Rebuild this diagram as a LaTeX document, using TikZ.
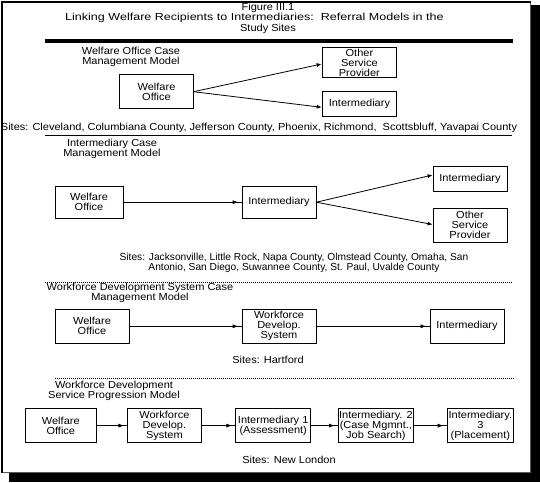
\documentclass[tikz,border=0pt]{standalone}
\usepackage{fontspec}
\setmainfont{Liberation Sans}[FakeStretch=1.08]
\newfontfamily\titlefont{Liberation Sans}[FakeStretch=1.23]
\newfontfamily\narrowfont{Liberation Sans}[FakeStretch=1.0]
\usetikzlibrary{arrows.meta,decorations.markings}
\begin{document}
\begin{tikzpicture}[x=1pt,y=-1pt,
  txt/.style={font=\fontsize{10.2}{10}\selectfont, align=center, inner sep=0pt},
  box/.style={draw, line width=0.8pt, fill=white, txt},
  conn/.style={line width=0.8pt, -{Latex[length=5pt,width=4pt]}},
  connmid/.style={line width=0.8pt, postaction={decorate},
    decoration={markings, mark=at position -3pt with {\arrow{Latex[length=6pt,width=4pt]}}}},
  sep/.style={line width=0.8pt},
  dotsep/.style={line width=0.8pt, dash pattern=on 1pt off 1pt}
]
\useasboundingbox (0,0) rectangle (540,482);
% frame with shadow
\fill[black] (9,5) rectangle (540,482);
\fill[white] (2,2) rectangle (530,472.5);
\draw[gray!70!black, line width=1pt] (530,1) -- (530,472.5) -- (1,472.5);
\draw[black, line width=2pt] (2,473) -- (2,2) -- (531,2);

% title
\node[txt] (t1) at (268,8.3) {Figure III.1};
\node[txt, font=\titlefont\fontsize{10.2}{10}\selectfont, anchor=west] (t2) at (65,18.3) {Linking Welfare Recipients to Intermediaries:\ \ Referral Models in the};
\node[txt] (t3) at (268,29) {Study Sites};
\draw[line width=4pt] (45,41) -- (512.7,41);

% section 1
\node[txt] (l1) at (131,56.4) {Welfare Office Case\\Management Model};
\node[box, minimum width=74pt, minimum height=33.8pt] (wo1) at (156.5,91.4) {Welfare\\Office};
\node[box, minimum width=74.7pt, minimum height=29.6pt] (osp1) at (359.4,62.5) {Other\\Service\\Provider};
\node[box, minimum width=74.7pt, minimum height=25.7pt] (int1) at (359.4,103.9) {Intermediary};
\coordinate (wo1o) at (193.5,91.7);
\coordinate (y1a) at (0,64);
\coordinate (y1b) at (0,107.3);
\draw[conn] (wo1o) -- (osp1.west |- y1a);
\draw[conn] (wo1o) -- (int1.west |- y1b);
\node[txt] (s1) at (259,128.3) {Sites: Cleveland, Columbiana County, Jefferson County, Phoenix, Richmond,\ \ Scottsbluff, Yavapai County};
\draw[sep] (45,135.7) -- (512,135.7);

% section 2
\node[txt] (l2) at (112,149) {Intermediary Case\\Management Model};
\node[box, minimum width=68pt, minimum height=32.3pt] (wo2) at (89,202.2) {Welfare\\Office};
\node[box, minimum width=74pt, minimum height=32.3pt] (int2m) at (279,202.2) {Intermediary};
\node[box, minimum width=74pt, minimum height=24.3pt] (int2r) at (470,178.8) {Intermediary};
\node[box, minimum width=74pt, minimum height=34pt] (osp2) at (470,225.3) {Other\\Service\\Provider};
\coordinate (y2a) at (0,175);
\coordinate (y2b) at (0,224.5);
\draw[connmid] (wo2) -- (int2m);
\draw[conn] (int2m.east) -- (int2r.west |- y2a);
\draw[conn] (int2m.east) -- (osp2.west |- y2b);
\node[txt, font=\narrowfont\fontsize{10.2}{10}\selectfont] (s2) at (294,263.3) {Sites: Jacksonville, Little Rock, Napa County, Olmstead County, Omaha, San\\Antonio, San Diego, Suwannee County, St. Paul, Uvalde County};
\draw[dotsep] (45,282) -- (512,282);

% section 3
\node[txt] (l3) at (140,293.2) {Workforce Development System Case\\Management Model};
\node[box, minimum width=74pt, minimum height=34pt] (wo3) at (92,326.3) {Welfare\\Office};
\node[box, minimum width=74pt, minimum height=34pt] (wds3) at (279,326.3) {Workforce\\Develop.\\System};
\node[box, minimum width=74pt, minimum height=34pt] (int3) at (467,326.3) {Intermediary};
\draw[connmid] (wo3) -- (wds3);
\draw[connmid] (wds3) -- (int3);
\node[txt] (s3) at (268,360) {Sites: Hartford};
\draw[dotsep] (55,378.3) -- (515,378.3);

% section 4
\node[txt] (l4) at (114,391) {Workforce Development\\Service Progression Model};
\node[box, minimum width=70.2pt, minimum height=34.2pt] (wo4) at (60.8,425.6) {Welfare\\Office};
\node[box, minimum width=73.3pt, minimum height=34.2pt] (wds4) at (164.4,425.6) {Workforce\\Develop.\\System};
\node[box, minimum width=75pt, minimum height=34.2pt] (i1) at (273.2,425.6) {Intermediary 1\\(Assessment)};
\node[box, minimum width=75pt, minimum height=34.2pt] (i2) at (375.9,425.6) {Intermediary. 2\\(Case Mgmnt.,\\Job Search)};
\node[box, minimum width=66.7pt, minimum height=34.2pt] (i3) at (480.4,425.6) {Intermediary.\\3\\(Placement)};
\draw[connmid] (wo4) -- (wds4);
\draw[connmid] (wds4) -- (i1);
\draw[connmid] (i1) -- (i2);
\draw[connmid] (i2) -- (i3);
\node[txt] (s4) at (289,460) {Sites: New London};
\end{tikzpicture}
\end{document}
